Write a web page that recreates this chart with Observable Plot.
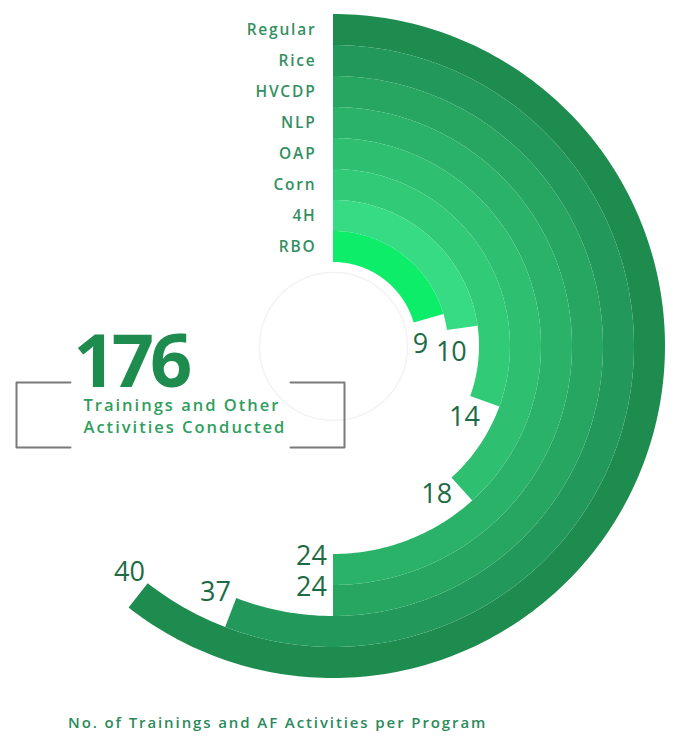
<!DOCTYPE html>
<html><head><meta charset="utf-8">
<script src="https://cdn.jsdelivr.net/npm/d3@7"></script>
<script src="https://cdn.jsdelivr.net/npm/@observablehq/plot@0.6"></script>
<style>
body{margin:0;background:#fff;font-family:"Open Sans",sans-serif;}
#chart{width:675px;height:706px;}
.caption{font-family:"Open Sans",sans-serif;font-weight:600;font-size:15px;color:#2b8a5c;letter-spacing:1.9px;padding-left:68px;margin-top:6px;}
.big text{letter-spacing:-4px;}
.prog text{letter-spacing:1.8px;}
.sub text{letter-spacing:2px;}
</style></head><body>
<div id="chart"></div>
<div class="caption" id="cap"></div>
<script>
// ---- data ----
const programs = ["Regular","Rice","HVCDP","NLP","OAP","Corn","4H","RBO"];
const counts   = [40, 37, 24, 24, 18, 14, 10, 9];
const colors   = ["#1f8c4f","#22995a","#26a660","#2ab368","#2ebf70","#31cb78","#37db84","#0ded6a"];
const totalLabel = "176";
const totalText  = ["Trainings and Other","Activities Conducted"];
const caption    = "No. of Trainings and AF Activities per Program";

// ---- layout ----
const W = 675, H = 706;
const cx = 333, cy = 346, rIn = 84, rOut = 332;
const radius = d3.scaleBand().domain([...programs].reverse()).range([rIn, rOut]);
const bw = radius.bandwidth();
// angle scale (degrees clockwise from 12 o'clock), as drawn in the infographic
const angle = d3.scaleLinear().domain([0, 10, 24, 37, 40]).range([0, 82, 180, 201, 218]);
const rad = d => d * Math.PI / 180;

const rows = programs.map((p, i) => ({program: p, value: counts[i]}));

const arcPts = [];
for (const r of rows) {
  const r0 = radius(r.program), r1 = r0 + bw, end = angle(r.value);
  const steps = [];
  for (let a = 0; a < end; a += 1) steps.push(a);
  steps.push(end);
  for (const a of steps) {
    const s = Math.sin(rad(a)), c = Math.cos(rad(a));
    arcPts.push({program: r.program, x1: cx + r0 * s, y1: cy - r0 * c, x2: cx + r1 * s, y2: cy - r1 * c});
  }
}

const progLabels = rows.map(r => ({program: r.program, x: cx - 17, y: cy - radius(r.program) - bw / 2}));

const valLabels = rows.map(r => {
  const r0 = radius(r.program) + 3;
  const a = angle(r.value) + (22 / r0) * 180 / Math.PI;
  return {text: String(r.value), x: cx + r0 * Math.sin(rad(a)), y: cy - r0 * Math.cos(rad(a))};
});

const box = {x1: 16, x2: 344, y1: 382, y2: 447, stub: 54};
const bracketL = [[box.x1 + box.stub, box.y1], [box.x1, box.y1], [box.x1, box.y2], [box.x1 + box.stub, box.y2]];
const bracketR = [[box.x2 - box.stub, box.y1], [box.x2, box.y1], [box.x2, box.y2], [box.x2 - box.stub, box.y2]];

const chart = Plot.plot({
  width: W, height: H, margin: 0,
  x: {domain: [0, W], range: [0, W], axis: null},
  y: {domain: [0, H], range: [0, H], axis: null},
  color: {domain: programs, range: colors},
  style: {fontFamily: "'Open Sans', sans-serif", background: "#fff"},
  marks: [
    Plot.dot([[cx, cy]], {r: rIn - 10, stroke: "#f3f3f3", strokeWidth: 1.5, fill: "none"}),
    Plot.area(arcPts, {x1: "x1", y1: "y1", x2: "x2", y2: "y2", z: "program", fill: "program"}),
    Plot.text(progLabels, {x: "x", y: "y", text: "program", textAnchor: "end", lineAnchor: "middle",
      fontSize: 15.5, fontWeight: 600, fill: "#348f60", className: "prog"}),
    Plot.text(valLabels, {x: "x", y: "y", text: "text", textAnchor: "middle", lineAnchor: "middle",
      fontSize: 27, fontWeight: 500, fill: "#1d6b45"}),
    Plot.line(bracketL, {stroke: "#7a7a7a", strokeWidth: 2}),
    Plot.line(bracketR, {stroke: "#7a7a7a", strokeWidth: 2}),
    Plot.text([totalLabel], {x: 73, y: 386, text: d => d, textAnchor: "start", lineAnchor: "bottom",
      fontSize: 74, fontWeight: 700, fill: "#1f8c4f", className: "big"}),
    Plot.text([totalText.join("\n")], {x: 83, y: 432, text: d => d, textAnchor: "start", lineAnchor: "bottom",
      fontSize: 16.5, fontWeight: 600, fill: "#2f9e5e", lineHeight: 1.3, className: "sub"})
  ]
});
document.getElementById("chart").appendChild(chart);
document.getElementById("cap").textContent = caption;
</script>
</body></html>
